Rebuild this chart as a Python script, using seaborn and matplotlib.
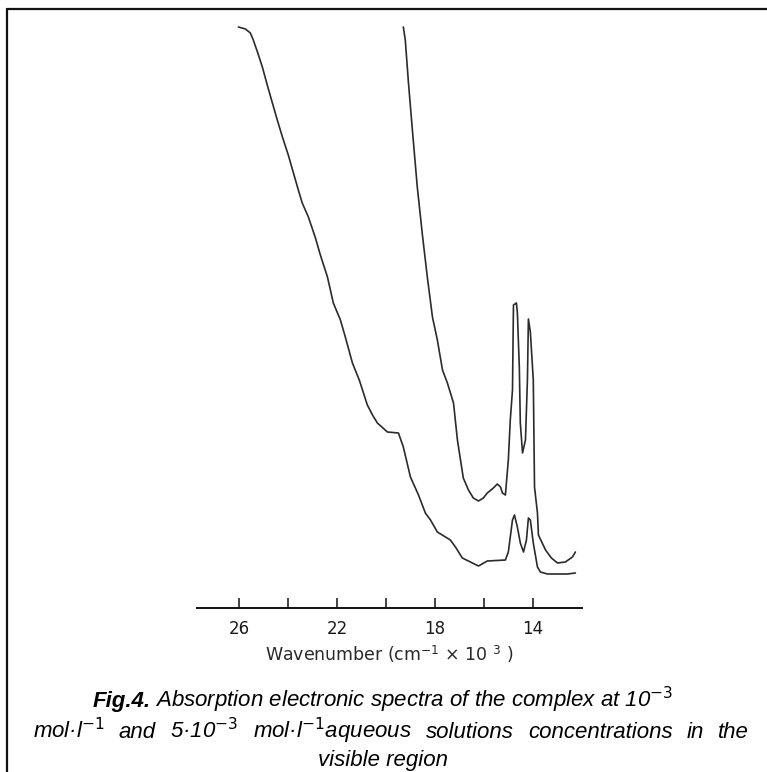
import matplotlib
matplotlib.use("Agg")
import matplotlib.pyplot as plt
import seaborn as sns
import pandas as pd
from matplotlib.lines import Line2D
from matplotlib.ticker import FixedLocator

# ---- data (wavenumber in 10^3 cm^-1, absorbance in arbitrary units) ----
wn_high = [19.30, 19.22, 19.09, 18.93, 18.73, 18.52, 18.32, 18.11, 17.91, 17.70,
           17.50, 17.25, 17.09, 16.85, 16.64, 16.44, 16.23, 16.03, 15.87, 15.62,
           15.46, 15.33, 15.25, 15.13, 15.01, 14.93, 14.84, 14.80, 14.68, 14.64,
           14.56, 14.52, 14.43, 14.31, 14.23, 14.19, 14.11, 13.99, 13.94, 13.82,
           13.78, 13.49, 13.25, 13.00, 12.68, 12.39, 12.27]
abs_high = [2.905, 2.84, 2.625, 2.39, 2.105, 1.865, 1.655, 1.455, 1.34, 1.19,
            1.125, 1.025, 0.84, 0.65, 0.59, 0.55, 0.535, 0.55, 0.575, 0.60,
            0.62, 0.605, 0.575, 0.565, 0.74, 0.94, 1.09, 1.515, 1.525, 1.475,
            1.20, 0.925, 0.775, 0.84, 1.14, 1.445, 1.38, 1.14, 0.605, 0.475,
            0.365, 0.29, 0.25, 0.225, 0.23, 0.255, 0.28]

wn_low = [26.04, 25.75, 25.55, 25.43, 25.26, 25.06, 24.86, 24.65, 24.45, 24.24,
          24.00, 23.79, 23.59, 23.43, 23.18, 22.89, 22.69, 22.40, 22.16, 21.87,
          21.67, 21.38, 21.10, 20.77, 20.56, 20.36, 19.95, 19.50, 19.30, 19.01,
          18.68, 18.40, 18.19, 17.91, 17.38, 17.17, 16.89, 16.56, 16.23, 15.87,
          15.13, 15.01, 14.84, 14.76, 14.64, 14.52, 14.39, 14.27, 14.19, 14.11,
          13.99, 13.82, 13.70, 13.41, 12.60, 12.27]
abs_low = [2.905, 2.895, 2.875, 2.84, 2.78, 2.705, 2.615, 2.525, 2.44, 2.355,
           2.265, 2.175, 2.09, 2.025, 1.955, 1.85, 1.765, 1.655, 1.525, 1.44,
           1.355, 1.225, 1.14, 1.015, 0.965, 0.925, 0.88, 0.875, 0.805, 0.655,
           0.565, 0.475, 0.44, 0.38, 0.34, 0.305, 0.25, 0.23, 0.21, 0.235,
           0.24, 0.28, 0.44, 0.465, 0.405, 0.325, 0.28, 0.34, 0.45, 0.44,
           0.325, 0.205, 0.18, 0.17, 0.17, 0.175]

major_ticks = [26, 22, 18, 14]
minor_ticks = [24, 20, 16]
tick_labels = ["26", "22", "18", "14"]

xlabel = "Wavenumber (cm$^{-1}$ × 10 $^{3}$ )"
caption_bold = "Fig.4."
caption_line1 = r" Absorption electronic spectra of the complex at 10$^{\mathit{-3}}$"
caption_line2_words = [r"mol·l$^{\mathit{-1}}$", "and", r"5·10$^{\mathit{-3}}$",
                       r"mol·l$^{\mathit{-1}}$aqueous", "solutions", "concentrations",
                       "in", "the"]
caption_line3 = "visible region"

df = pd.concat([
    pd.DataFrame({"wn": wn_high, "A": abs_high, "conc": "5e-3"}),
    pd.DataFrame({"wn": wn_low, "A": abs_low, "conc": "1e-3"}),
])

sns.set_theme(style="white")
plt.rcParams["font.family"] = ["Liberation Sans", "DejaVu Sans"]
plt.rcParams["mathtext.fontset"] = "custom"
plt.rcParams["mathtext.rm"] = "DejaVu Sans"
plt.rcParams["mathtext.it"] = "Liberation Sans:italic"
plt.rcParams["mathtext.bf"] = "Liberation Sans:bold:italic"

W, H = 767, 772
fig = plt.figure(figsize=(W / 100, H / 100), dpi=100)
ax = fig.add_axes([197 / W, 1 - 608 / H, (582 - 197) / W, (608 - 20) / H])

sns.lineplot(data=df, x="wn", y="A", units="conc", estimator=None, sort=False,
             color="#2b2b2b", linewidth=1.2, ax=ax, legend=False)

ax.set_xlim(27.73, 12.0)
ax.set_ylim(0, 2.94)
for s in ["left", "right", "top"]:
    ax.spines[s].set_visible(False)
ax.spines["bottom"].set_color("#111111")
ax.spines["bottom"].set_linewidth(1.4)
ax.set_yticks([])
ax.set_ylabel("")
ax.xaxis.set_major_locator(FixedLocator(major_ticks))
ax.xaxis.set_minor_locator(FixedLocator(minor_ticks))
ax.set_xticklabels(tick_labels, fontfamily="DejaVu Sans")
ax.tick_params(axis="x", which="both", direction="in", length=7.5, width=1.1,
               color="#111111", bottom=True, labelsize=12, pad=9, labelcolor="#1a1a1a")
ax.set_xlabel(xlabel, fontsize=12.5, fontfamily="DejaVu Sans", color="#2a2a2a", labelpad=4)

# figure frame (left and top edges)
fig.add_artist(Line2D([7 / W, 7 / W], [0, 1 - 9 / H], transform=fig.transFigure,
                      color="#111111", linewidth=1.6))
fig.add_artist(Line2D([7 / W, 1], [1 - 9 / H, 1 - 9 / H], transform=fig.transFigure,
                      color="#111111", linewidth=1.6))

FS = 16
fig.canvas.draw()
renderer = fig.canvas.get_renderer()


def width_px(t):
    return t.get_window_extent(renderer=renderer).width


# line 1: bold "Fig.4." followed by italic text, centred as a whole
tb = fig.text(0, 1 - 707 / H, caption_bold, ha="left", va="baseline", fontsize=FS,
              fontweight="bold", fontstyle="italic", color="black")
ti = fig.text(0, 1 - 707 / H, caption_line1, ha="left", va="baseline", fontsize=FS,
              fontstyle="italic", color="black")
wb, wi = width_px(tb), width_px(ti)
x0 = 383 - (wb + wi) / 2
tb.set_x(x0 / W)
ti.set_x((x0 + wb) / W)

# line 2: justified between the margins
words = [fig.text(0, 1 - 738 / H, w, ha="left", va="baseline", fontsize=FS,
                  fontstyle="italic", color="black") for w in caption_line2_words]
ws = [width_px(t) for t in words]
left, right = 33, 749
gap = (right - left - sum(ws)) / (len(ws) - 1)
x = left
for t, w in zip(words, ws):
    t.set_x(x / W)
    x += w + gap

# line 3: centred
fig.text(383 / W, 1 - 766 / H, caption_line3, ha="center", va="baseline", fontsize=FS,
         fontstyle="italic", color="black")

fig.savefig("out.png", dpi=100)
